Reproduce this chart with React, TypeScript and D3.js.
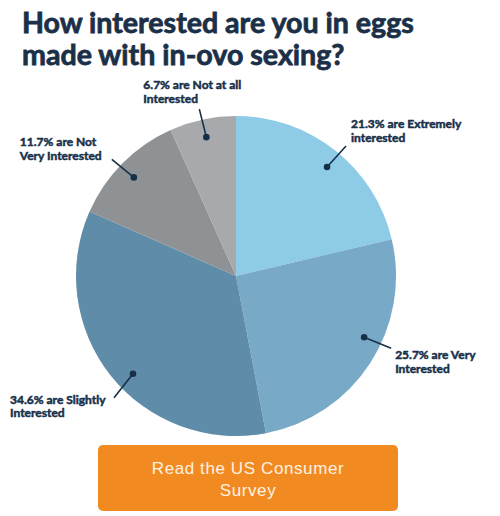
import { useEffect, useRef } from 'react';
import * as d3 from 'd3';

// Survey answers, clockwise from 12 o'clock
const answers = ['Extremely', 'Very', 'Slightly', 'Not Very', 'Not at all'];
const shares = [21.3, 25.7, 34.6, 11.7, 6.7];
const labelLines = [
  ['21.3% are Extremely', 'interested'],
  ['25.7% are Very', 'Interested'],
  ['34.6% are Slightly', 'Interested'],
  ['11.7% are Not', 'Very Interested'],
  ['6.7% are Not at all', 'Interested'],
];
const sliceColors = ['#8ecbe7', '#78aac8', '#5f8ca8', '#8f9295', '#a7a9ac'];

// where the dot sits inside its slice (fraction of the sweep), leader line
// offset from the dot, and text anchor offset from the dot
const leaders = [
  { pos: 0.52, dx: 19, dy: -21, tx: 24, ty: -39 },
  { pos: 0.42, dx: 27, dy: 11, tx: 31, ty: 22 },
  { pos: 0.46, dx: -19, dy: 24, tx: -123, ty: 30 },
  { pos: 0.48, dx: -22, dy: -18, tx: -114, ty: -31 },
  { pos: 0.5, dx: -7, dy: -28, tx: -63, ty: -48 },
];

const W = 500;
const H = 516;
const NAVY = '#17304a';

export default function App() {
  const svgRef = useRef<SVGSVGElement>(null);

  useEffect(() => {
    if (!svgRef.current) return;
    const root = d3.select(svgRef.current);
    root.selectAll('*').remove();

    // Title
    const title = root
      .append('text')
      .style('font-family', 'Lato, sans-serif')
      .style('font-weight', 700)
      .style('font-size', '28.6px')
      .style('fill', '#1b3048')
      .style('stroke', '#1b3048')
      .style('stroke-width', 0.8);
    title.append('tspan').attr('x', 22).attr('y', 33).text('How interested are you in eggs');
    title.append('tspan').attr('x', 22).attr('y', 65).text('made with in-ovo sexing?');

    const cx = 236;
    const cy = 276;
    const radius = 160;
    const dotR = 142;

    const g = root.append('g').attr('transform', `translate(${cx},${cy})`);

    const pie = d3
      .pie<number>()
      .sort(null)
      .value((d) => d);
    const arcs = pie(shares);

    const arc = d3.arc<d3.PieArcDatum<number>>().innerRadius(0).outerRadius(radius);

    g.selectAll('.slice')
      .data(arcs)
      .enter()
      .append('path')
      .attr('class', 'slice')
      .attr('d', arc)
      .style('fill', (_d, i) => sliceColors[i]);

    // Leader lines, dots and labels
    arcs.forEach((a, i) => {
      const l = leaders[i];
      const ang = a.startAngle + (a.endAngle - a.startAngle) * l.pos;
      const x = dotR * Math.sin(ang);
      const y = -dotR * Math.cos(ang);
      g.append('line')
        .attr('x1', x)
        .attr('y1', y)
        .attr('x2', x + l.dx)
        .attr('y2', y + l.dy)
        .style('stroke', NAVY)
        .style('stroke-width', 1.6);
      g.append('circle').attr('cx', x).attr('cy', y).attr('r', 3.3).style('fill', NAVY);

      const t = g
        .append('text')
        .attr('data-answer', answers[i])
        .style('font-family', 'Lato, sans-serif')
        .style('font-weight', 700)
        .style('font-size', '12px')
        .style('fill', NAVY)
        .style('stroke', NAVY)
        .style('stroke-width', 0.5);
      labelLines[i].forEach((line, k) => {
        t.append('tspan')
          .attr('x', x + l.tx)
          .attr('y', y + l.ty + k * 13.5)
          .text(line);
      });
    });

    // Call-to-action button
    root
      .append('rect')
      .attr('x', 98)
      .attr('y', 445)
      .attr('width', 300)
      .attr('height', 66)
      .attr('rx', 5)
      .style('fill', '#f28a22');
    const btn = root
      .append('text')
      .attr('text-anchor', 'middle')
      .style('font-family', '"Liberation Sans", Arial, sans-serif')
      .style('font-size', '17px')
      .style('letter-spacing', '0.6px')
      .style('fill', '#fdf2e2');
    btn.append('tspan').attr('x', 248).attr('y', 474).text('Read the US Consumer');
    btn.append('tspan').attr('x', 248).attr('y', 496).text('Survey');
  }, []);

  return (
    <svg
      ref={svgRef}
      width={W}
      height={H}
      style={{ position: 'absolute', left: 0, top: 0, background: '#ffffff' }}
    />
  );
}
